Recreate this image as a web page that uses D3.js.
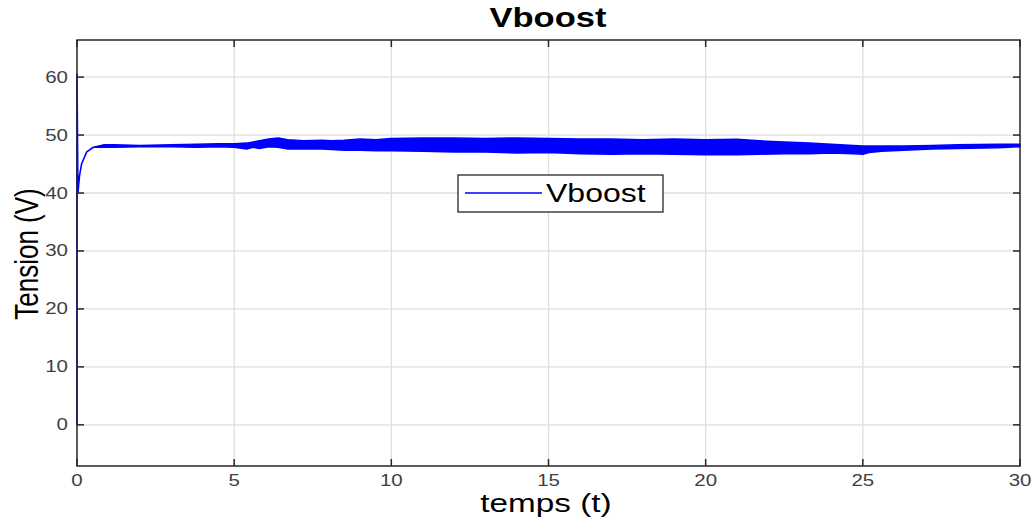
<!DOCTYPE html>
<html>
<head>
<meta charset="utf-8">
<script src="https://cdn.jsdelivr.net/npm/d3@7"></script>
<style>
  body { margin: 0; background: #fff; }
  text { font-family: "Liberation Sans", Arial, sans-serif; }
</style>
</head>
<body>
<div id="chart"></div>
<script>
// tick labels
var xTicks = [0, 5, 10, 15, 20, 25, 30];
var yTicks = [0, 10, 20, 30, 40, 50, 60];

// time points (s) and upper / lower envelope of Vboost (V)
var tPts = [0, 0, 0.03, 0.08, 0.15, 0.31, 0.52, 0.84, 1.2, 2, 3, 3.8, 4.5, 5.0, 5.4, 5.6, 5.8, 6.1, 6.4, 6.7,
  7.2, 7.8, 8.1, 8.5, 9, 9.5, 10, 11, 12, 13, 14, 15, 16, 17, 18, 19, 20, 21, 21.7, 22.5,
  23.3, 24, 24.7, 25, 25.2, 25.6, 26.3, 27.2, 28, 29.3, 30];
var vUpper = [0, 60.5, 40, 43, 45.1, 47.1, 47.9, 48.3, 48.3, 48.2, 48.3, 48.4, 48.5, 48.5, 48.6, 48.8, 49.0, 49.3, 49.5, 49.2,
  49.0, 49.1, 49.0, 49.1, 49.3, 49.2, 49.4, 49.5, 49.5, 49.4, 49.5, 49.4, 49.3, 49.3, 49.2, 49.3, 49.2, 49.25, 49.0, 48.8,
  48.6, 48.4, 48.2, 48.1, 48.1, 48.1, 48.1, 48.2, 48.3, 48.4, 48.4];
var vLower = [0, 60.5, 40, 43, 45.1, 47.1, 47.9, 47.9, 47.9, 48.0, 48.0, 47.9, 48.0, 47.9, 47.6, 47.9, 47.7, 48.0, 47.9, 47.6,
  47.6, 47.6, 47.5, 47.4, 47.4, 47.3, 47.3, 47.2, 47.1, 47.1, 46.9, 47.0, 46.8, 46.7, 46.8, 46.7, 46.6, 46.6, 46.7, 46.8,
  46.8, 46.9, 46.8, 46.7, 47.0, 47.2, 47.4, 47.6, 47.7, 47.8, 48.0];

var width = 1035, height = 522;
var pLeft = 77, pRight = 1020, pTop = 40, pBottom = 466;
var stretch = 1.28; // the picture is stretched sideways

var svg = d3.select("#chart").append("svg")
  .attr("width", width)
  .attr("height", height);

var x = d3.scaleLinear().domain([0, 30]).range([pLeft, pRight]);
var y = d3.scaleLinear().domain([-7.1, 66.4]).range([pBottom, pTop]);

// grid
svg.append("g").selectAll("line").data(xTicks.slice(1, -1)).enter().append("line")
  .attr("x1", d => x(d)).attr("x2", d => x(d))
  .attr("y1", pTop).attr("y2", pBottom)
  .attr("stroke", "#dedede").attr("stroke-width", 1.3);
svg.append("g").selectAll("line").data(yTicks).enter().append("line")
  .attr("x1", pLeft).attr("x2", pRight)
  .attr("y1", d => y(d)).attr("y2", d => y(d))
  .attr("stroke", "#dedede").attr("stroke-width", 1.3);

// signal band
var pts = tPts.map((t, i) => ({t: t, hi: vUpper[i], lo: vLower[i]}));
var band = d3.area()
  .x(d => x(d.t))
  .y0(d => y(d.lo))
  .y1(d => y(d.hi));
svg.append("path")
  .datum(pts)
  .attr("d", band)
  .attr("fill", "#0000ff")
  .attr("stroke", "#0000ff")
  .attr("stroke-width", 1.6)
  .attr("stroke-linejoin", "round");

// box + inward ticks
svg.append("rect")
  .attr("x", pLeft).attr("y", pTop)
  .attr("width", pRight - pLeft).attr("height", pBottom - pTop)
  .attr("fill", "none").attr("stroke", "#262626").attr("stroke-width", 1.5);

var tl = 7;
var tk = svg.append("g").attr("stroke", "#262626").attr("stroke-width", 1.5);
xTicks.forEach(function(d) {
  tk.append("line").attr("x1", x(d)).attr("x2", x(d)).attr("y1", pBottom).attr("y2", pBottom - tl);
  tk.append("line").attr("x1", x(d)).attr("x2", x(d)).attr("y1", pTop).attr("y2", pTop + tl);
});
yTicks.forEach(function(d) {
  tk.append("line").attr("x1", pLeft).attr("x2", pLeft + tl).attr("y1", y(d)).attr("y2", y(d));
  tk.append("line").attr("x1", pRight).attr("x2", pRight - tl).attr("y1", y(d)).attr("y2", y(d));
});

// tick labels
svg.append("g").selectAll("text").data(xTicks).enter().append("text")
  .attr("transform", d => "translate(" + x(d) + "," + (pBottom + 20) + ") scale(" + stretch + ",1)")
  .attr("text-anchor", "middle")
  .attr("font-size", 16)
  .attr("fill", "#404040")
  .text(d => d);
svg.append("g").selectAll("text").data(yTicks).enter().append("text")
  .attr("transform", d => "translate(" + (pLeft - 9) + "," + (y(d) + 5.5) + ") scale(" + stretch + ",1)")
  .attr("text-anchor", "end")
  .attr("font-size", 16)
  .attr("fill", "#404040")
  .text(d => d);

// title and axis labels
svg.append("text")
  .attr("transform", "translate(548,27) scale(" + stretch + ",1)")
  .attr("text-anchor", "middle")
  .attr("font-size", 27)
  .attr("font-weight", "bold")
  .text("Vboost");

svg.append("text")
  .attr("transform", "translate(546,512) scale(" + stretch + ",1)")
  .attr("text-anchor", "middle")
  .attr("font-size", 26)
  .text("temps (t)");

svg.append("text")
  .attr("transform", "translate(38,254) scale(" + stretch + ",1) rotate(-90)")
  .attr("text-anchor", "middle")
  .attr("font-size", 26)
  .text("Tension (V)");

// legend
var lg = svg.append("g");
lg.append("rect")
  .attr("x", 458).attr("y", 175)
  .attr("width", 205).attr("height", 37)
  .attr("fill", "#fff").attr("stroke", "#262626").attr("stroke-width", 1.3);
lg.append("line")
  .attr("x1", 465).attr("x2", 542).attr("y1", 193).attr("y2", 193)
  .attr("stroke", "#0000ff").attr("stroke-width", 1.6);
lg.append("text")
  .attr("transform", "translate(546,202) scale(" + stretch + ",1)")
  .attr("font-size", 25)
  .text("Vboost");
</script>
</body>
</html>
